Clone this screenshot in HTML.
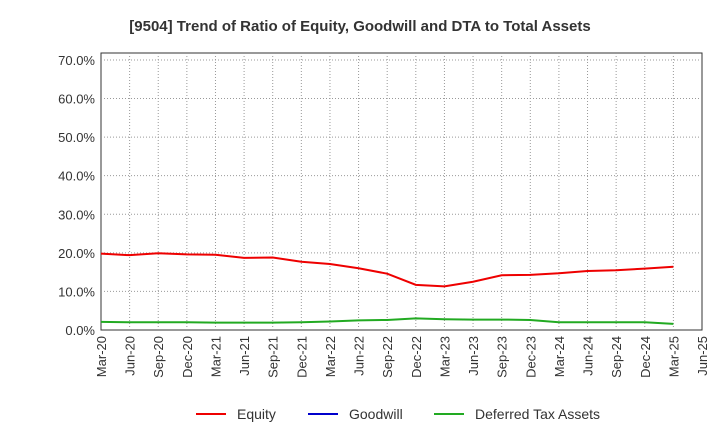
<!DOCTYPE html>
<html><head><meta charset="utf-8"><style>
body{margin:0;background:#fff;font-family:"Liberation Sans",sans-serif;}
</style></head><body>
<svg id="c" width="720" height="440" xmlns="http://www.w3.org/2000/svg">
<text x="360" y="31" text-anchor="middle" font-size="15" font-weight="bold" fill="#333">[9504]  Trend of Ratio of Equity, Goodwill and DTA to Total Assets</text>
<g id="grid"></g><g id="axes"></g><g id="series"></g>
<g>
<line x1="196" y1="414" x2="226" y2="414" stroke="#e00" stroke-width="2"/><text x="237" y="419" font-size="14" fill="#333">Equity</text>
<line x1="308" y1="414" x2="338" y2="414" stroke="#00c" stroke-width="2"/><text x="349" y="419" font-size="14" fill="#333">Goodwill</text>
<line x1="434" y1="414" x2="464" y2="414" stroke="#2a2" stroke-width="2"/><text x="475" y="419" font-size="14" fill="#333">Deferred Tax Assets</text>
</g>
</svg>
<script>
const xLabels=["Mar-20","Jun-20","Sep-20","Dec-20","Mar-21","Jun-21","Sep-21","Dec-21","Mar-22","Jun-22","Sep-22","Dec-22","Mar-23","Jun-23","Sep-23","Dec-23","Mar-24","Jun-24","Sep-24","Dec-24","Mar-25","Jun-25"];
const yTicks=[0,10,20,30,40,50,60,70];
const equity=[19.8,19.4,19.9,19.6,19.5,18.7,18.8,17.7,17.1,16.0,14.6,11.7,11.3,12.5,14.2,14.3,14.7,15.3,15.5,15.9,16.4];
const dta=[2.1,2.0,2.0,2.0,1.9,1.9,1.9,2.0,2.2,2.5,2.6,3.0,2.8,2.7,2.7,2.6,2.0,2.0,2.0,2.0,1.6];
const NS="http://www.w3.org/2000/svg";
const L=101,R=702,T=53,B=330,yMax=71.8;
const X=i=>L+(R-L)*i/(xLabels.length-1);
const Y=v=>B-(B-T)*v/yMax;
function mk(tag,attrs,parent){const e=document.createElementNS(NS,tag);for(const k in attrs)e.setAttribute(k,attrs[k]);document.getElementById(parent).appendChild(e);return e;}
const bg=mk("rect",{x:L,y:T,width:R-L,height:B-T,fill:"#fff",stroke:"#333","stroke-width":1},"grid");


xLabels.forEach((lab,i)=>{
  const x=X(i);
  if(i>0&&i<xLabels.length-1){const g=mk("line",{x1:x,y1:T,x2:x,y2:B,stroke:"#999","stroke-dasharray":"1,2"},"grid");
  
  }
  const t=mk("text",{x:0,y:0,transform:`translate(${x+5},${B+6}) rotate(-90)`,"text-anchor":"end","font-size":"13",fill:"#333"},"axes");
  t.textContent=lab;
  
  
});
yTicks.forEach(v=>{
  const y=Y(v);
  if(v>0){const g=mk("line",{x1:L,y1:y,x2:R,y2:y,stroke:"#999","stroke-dasharray":"1,2"},"grid");
  
  }
  const t=mk("text",{x:L-6,y:y+5,"text-anchor":"end","font-size":"13",fill:"#333"},"axes");
  t.textContent=v.toFixed(1)+"%";
  
  
});
function line(data,color,name){
  const p=mk("polyline",{points:data.map((v,i)=>X(i)+","+Y(v)).join(" "),fill:"none",stroke:color,"stroke-width":2},"series");
  
  
}
line(dta,"#2a2","dta-line");
line(equity,"#e00","equity-line");
</script>
</body></html>
